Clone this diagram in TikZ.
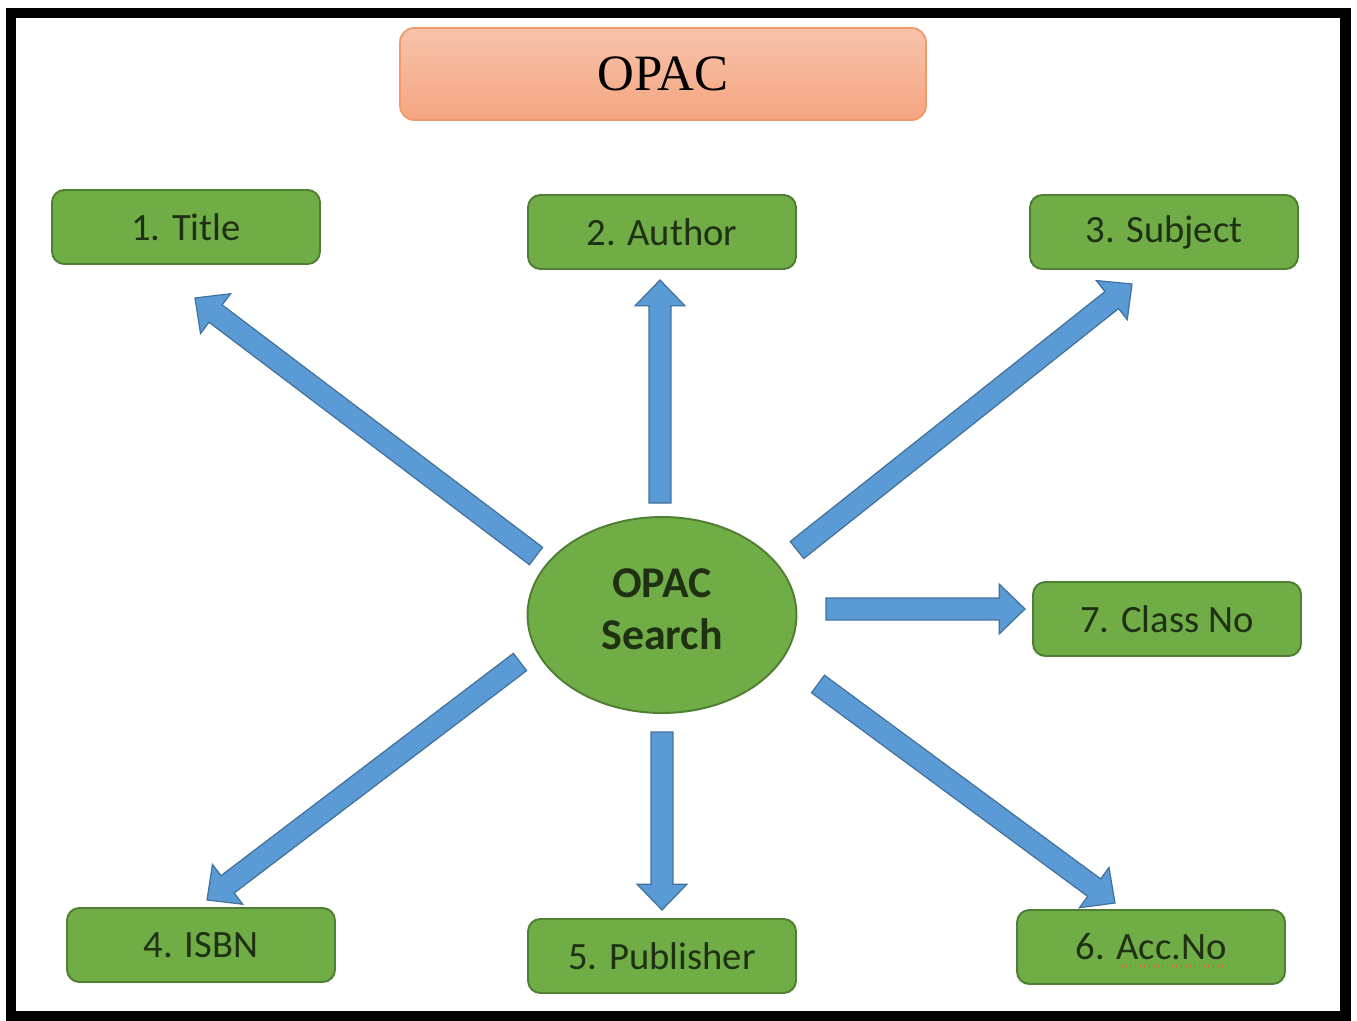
\documentclass[tikz,border=0pt]{standalone}
\usepackage{fontspec}
\usepackage{tikz}
\usetikzlibrary{shapes.geometric}
\usetikzlibrary{calc}
\setmainfont{Carlito}
\newfontfamily\titlefont{Liberation Serif}

\definecolor{boxgreen}{HTML}{70AD47}
\definecolor{boxedge}{HTML}{507E32}
\definecolor{boxtext}{HTML}{1F3013}
\definecolor{arrowblue}{HTML}{5B9BD5}
\definecolor{arrowedge}{HTML}{41719C}
\definecolor{opactop}{HTML}{F8C3AB}
\definecolor{opacbottom}{HTML}{F4A580}
\definecolor{opacedge}{HTML}{EE9A6A}
\definecolor{squiggle}{HTML}{E0602A}

\begin{document}
\begin{tikzpicture}[x=0.02cm,y=-0.02cm]
      \newcommand{\blockarrow}[4]{
        \draw[barrow] let \p1=($(#1)+(#2)$), \p2=($(#3)+(#4)$),
          \n1={atan2(\y2-\y1,\x2-\x1)}, \n2={veclen(\x2-\x1,\y2-\y1)} in
          [shift={(\p1)}, rotate=\n1]
          (0pt,-6.2pt) -- ({\n2-14.7pt},-6.2pt) -- ({\n2-14.7pt},-14.2pt)
          -- ({\n2-0pt},0pt) -- ({\n2-14.7pt},14.2pt) -- ({\n2-14.7pt},6.2pt)
          -- (0pt,6.2pt) -- cycle;
      }
      \tikzstyle{field}=[
        draw=boxedge,
        fill=boxgreen,
        line width=1.1pt,
        rounded corners=7pt,
        minimum width=5.36cm,
        minimum height=1.48cm,
        text=boxtext,
        font=\fontsize{22}{26}\selectfont,
      ]
      \tikzstyle{hub}=[
        ellipse,
        draw=boxedge,
        fill=boxgreen,
        line width=1.1pt,
        inner sep=0pt,
        minimum width=5.38cm,
        minimum height=3.92cm,
        text=boxtext,
        align=center,
        font=\bfseries\fontsize{25}{29.5}\selectfont,
      ]
      \tikzstyle{barrow}=[draw=arrowedge, fill=arrowblue, line width=0.7pt, line join=miter]

      \useasboundingbox (0,0) rectangle (1357,1021);
      \draw[line width=0.22cm] (11,13) rectangle (1345,1016);

      \node[draw=opacedge, line width=1pt, rounded corners=8pt,
        top color=opactop, bottom color=opacbottom,
        minimum width=10.52cm, minimum height=1.84cm,
        font=\titlefont\fontsize{29}{32}\selectfont] (opac) at (663,74) {OPAC};

      \node[hub] (search) at (662,615) {};
      \node[text=boxtext, align=center, font=\bfseries\fontsize{25}{29.5}\selectfont]
        (searchtext) at (662,609) {OPAC\\Search};

      \node[field] (n1) at (186,227) {1. Title};
      \node[field] (n2) at (662,232) {2. Author};
      \node[field] (n3) at (1164,232) {3. Subject};
      \node[field] (n4) at (201,945) {4. ISBN};
      \node[field] (n5) at (662,956) {5. Publisher};
      \node[field] (n6) at (1151,947) {6. Acc.No};
      \node[field] (n7) at (1167,619) {7. Class No};

      % spell-check mark under Acc.No
      \draw[squiggle, line width=0.6pt, dotted] ($(n6)+(-34,19)$) -- ($(n6)+(80,19)$);

      \blockarrow{search}{-126,-59}{n1}{9,71}
      \blockarrow{search}{-2,-112}{n2}{-2,48}
      \blockarrow{search}{135,-65}{n3}{-32,52}
      \blockarrow{search}{-142,47}{n4}{6,-45}
      \blockarrow{search}{0,117}{n5}{0,-46}
      \blockarrow{search}{156,69}{n6}{-36,-44}
      \blockarrow{search}{164,-6}{n7}{-142,-10}
\end{tikzpicture}
\end{document}
